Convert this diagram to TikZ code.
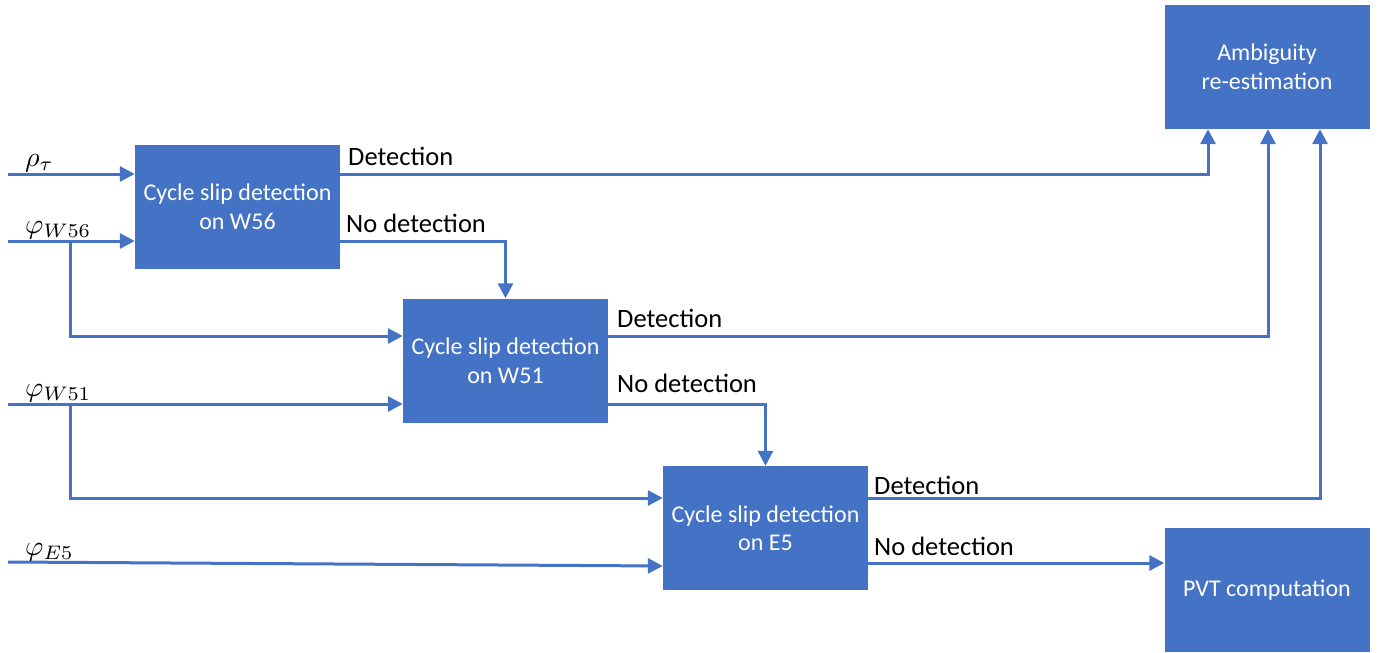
\documentclass[tikz,border=0pt]{standalone}
\usepackage{fontspec}
\setmainfont{Carlito}
\usetikzlibrary{arrows.meta,calc}
\definecolor{boxblue}{HTML}{4472C4}
\newcommand{\biglabel}[1]{\scalebox{2.8}{$#1$}}
\tikzset{
  block/.style={rectangle, fill=boxblue, draw=none, minimum width=205pt, minimum height=124pt,
    inner sep=0pt, align=center, text=white, font=\fontsize{24}{28.5}\selectfont},
  link/.style={draw=boxblue, line width=3pt, -{Triangle[length=15pt,width=15pt]}},
  flowlabel/.style={anchor=base west, inner sep=0pt, font=\fontsize{26.5}{32}\selectfont},
  inlabel/.style={anchor=base west, inner sep=0pt}
}
\begin{document}
\begin{tikzpicture}[x=1pt,y=-1pt]
\useasboundingbox (0,0) rectangle (1381,653);

% processing blocks
\node[block] (b1) at (237.5,207) {Cycle slip detection\\on W56};
\node[block] (b2) at (505.5,360.5) {Cycle slip detection\\on W51};
\node[block] (b3) at (765.5,528) {Cycle slip detection\\on E5};
\node[block] (amb) at (1267,67) {Ambiguity\\re-estimation};
\node[block] (pvt) at (1267,590) {PVT computation};

% input signal levels and branch points
\coordinate (rho) at (8,174);
\coordinate (w56) at (8,241);
\coordinate (w51) at (8,404);
\coordinate (e5) at (8,562);
\coordinate (j56) at (70,241);
\coordinate (j51) at (70,404);
\coordinate (y2) at (0,336);
\coordinate (y3) at (0,498);
\coordinate (y4) at (0,563);

% inputs
\draw[link] (rho) -- (rho -| b1.west);
\draw[link] (w56) -- (w56 -| b1.west);
\draw[link] (j56) |- (y2 -| b2.west);
\draw[link] (w51) -- (w51 -| b2.west);
\draw[link] (j51) |- (y3 -| b3.west);
\draw[link] (e5) -- ($(b3.west)+(0,38)$);

% outputs
\draw[link] (rho -| b1.east) -| ($(amb.south)+(-59,0)$);
\draw[link] (w56 -| b1.east) -| (b2.north);
\draw[link] (y2 -| b2.east) -| ($(amb.south)+(1,0)$);
\draw[link] (w51 -| b2.east) -| (b3.north);
\draw[link] (y3 -| b3.east) -| ($(amb.south)+(53,0)$);
\draw[link] (y4 -| b3.east) -- (y4 -| pvt.west);

% input labels
\node[inlabel] (lrho) at (25,166) {\biglabel{\rho_\tau}};
\node[inlabel] (lw56) at (25,233) {\biglabel{\varphi_{W56}}};
\node[inlabel] (lw51) at (25,396) {\biglabel{\varphi_{W51}}};
\node[inlabel] (le5) at (25,555) {\biglabel{\varphi_{E5}}};

% branch labels
\node[flowlabel] (d1) at (348,165) {Detection};
\node[flowlabel] (n1) at (346,232) {No detection};
\node[flowlabel] (d2) at (617,327) {Detection};
\node[flowlabel] (n2) at (617,392) {No detection};
\node[flowlabel] (d3) at (874,494) {Detection};
\node[flowlabel] (n3) at (874,555) {No detection};
\end{tikzpicture}
\end{document}
